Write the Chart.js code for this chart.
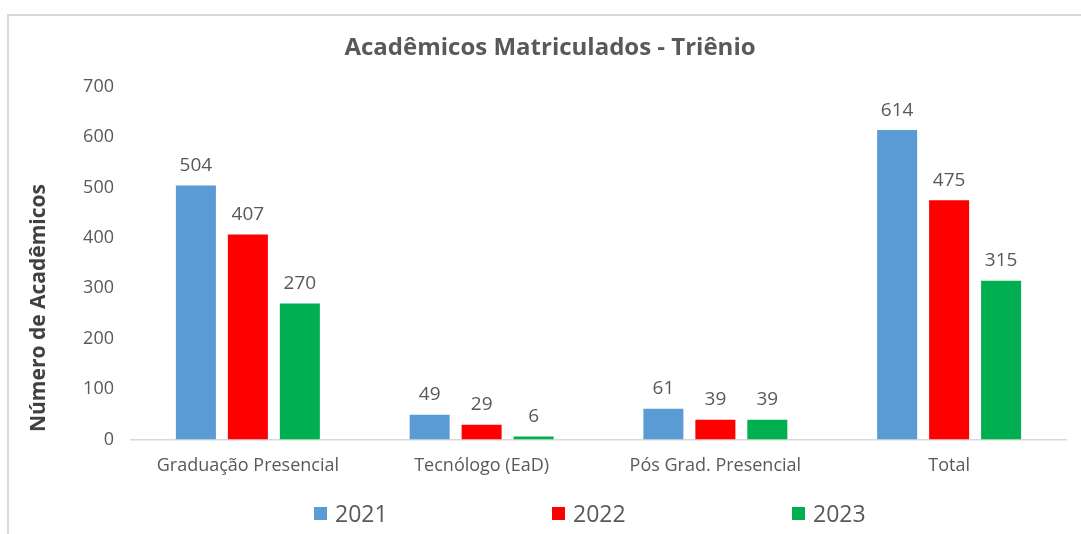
<!DOCTYPE html>
<html>
<head>
<meta charset="utf-8">
<script src="https://cdn.jsdelivr.net/npm/chart.js@4.4.1/dist/chart.umd.min.js"></script>
<style>
  html, body { margin: 0; padding: 0; background: #fff; }
  #wrap { position: relative; width: 1081px; height: 534px; overflow: hidden; }
  #frame { position: absolute; left: 7px; top: 14px; right: -5px; bottom: -5px;
           border-top: 2px solid #d9d9d9; border-left: 2px solid #d9d9d9; }
  canvas { position: absolute; left: 0; top: 0; }
  #ytitle { position: absolute; left: 37px; top: 308px; transform: translate(-50%, -50%) rotate(-90deg);
            font: bold 21px "Open Sans", sans-serif; color: #404040; white-space: nowrap; }
  .leg { position: absolute; top: 497px; font: 23px "Open Sans", sans-serif; color: #595959;
         display: flex; align-items: center; }
  .leg span.box { width: 13px; height: 13px; margin-right: 8px; display: inline-block; }
</style>
</head>
<body>
<div id="wrap">
  <div id="frame"></div>
  <canvas id="chart" width="1081" height="534"></canvas>
  <div id="ytitle">Número de Acadêmicos</div>
  <div id="legend"></div>
</div>
<script>
const categories = ["Graduação Presencial", "Tecnólogo (EaD)", "Pós Grad. Presencial", "Total"];
const years = ["2021", "2022", "2023"];
const values2021 = [504, 49, 61, 614];
const values2022 = [407, 29, 39, 475];
const values2023 = [270, 6, 39, 315];
const colors = ["#5B9BD5", "#FF0000", "#00B050"];
const legendLeft = [314, 552, 792];

const ctx = document.getElementById("chart").getContext("2d");

// valores acima das barras
const barLabels = {
    id: 'barLabels',
    afterDatasetsDraw(chart) {
        const c = chart.ctx;
        c.save();
        c.font = '19px "Open Sans", sans-serif';
        c.fillStyle = '#595959';
        c.textAlign = 'center';
        c.textBaseline = 'middle';
        chart.data.datasets.forEach((ds, i) => {
            chart.getDatasetMeta(i).data.forEach((bar, j) => {
                c.fillText(ds.data[j], bar.x, bar.y - 20);
            });
        });
        c.restore();
    }
};

const chart = new Chart(ctx, {
    type: 'bar',
    data: {
        labels: categories,
        datasets: [
            { label: years[0], data: values2021, backgroundColor: colors[0] },
            { label: years[1], data: values2022, backgroundColor: colors[1] },
            { label: years[2], data: values2023, backgroundColor: colors[2] }
        ]
    },
    options: {
        responsive: false,
        animation: false,
        categoryPercentage: 0.667,
        barPercentage: 0.77,
        layout: { padding: { left: 34, right: 15, top: 15, bottom: 49 } },
        plugins: {
            legend: { display: false },
            tooltip: { enabled: false },
            title: {
                display: true,
                text: 'Acadêmicos Matriculados - Triênio',
                color: '#595959',
                font: { family: '"Open Sans", sans-serif', size: 24, weight: 'bold' },
                padding: { top: 19, bottom: 24 }
            }
        },
        scales: {
            x: {
                grid: { display: false },
                border: { display: true, color: '#d9d9d9', width: 1.5 },
                ticks: { color: '#595959', padding: 8, font: { family: '"Open Sans", sans-serif', size: 18 } }
            },
            y: {
                min: 0, max: 700,
                afterFit(scale) { scale.width = 97; },
                grid: { display: false },
                border: { display: false },
                ticks: { stepSize: 100, color: '#595959', padding: 9, font: { family: '"Open Sans", sans-serif', size: 18 } }
            }
        }
    },
    plugins: [barLabels]
});

const legend = document.getElementById("legend");
years.forEach((y, i) => {
    const item = document.createElement("div");
    item.className = "leg";
    item.style.left = legendLeft[i] + "px";
    item.innerHTML = '<span class="box" style="background:' + colors[i] + '"></span>' + y;
    legend.appendChild(item);
});
</script>
</body>
</html>
